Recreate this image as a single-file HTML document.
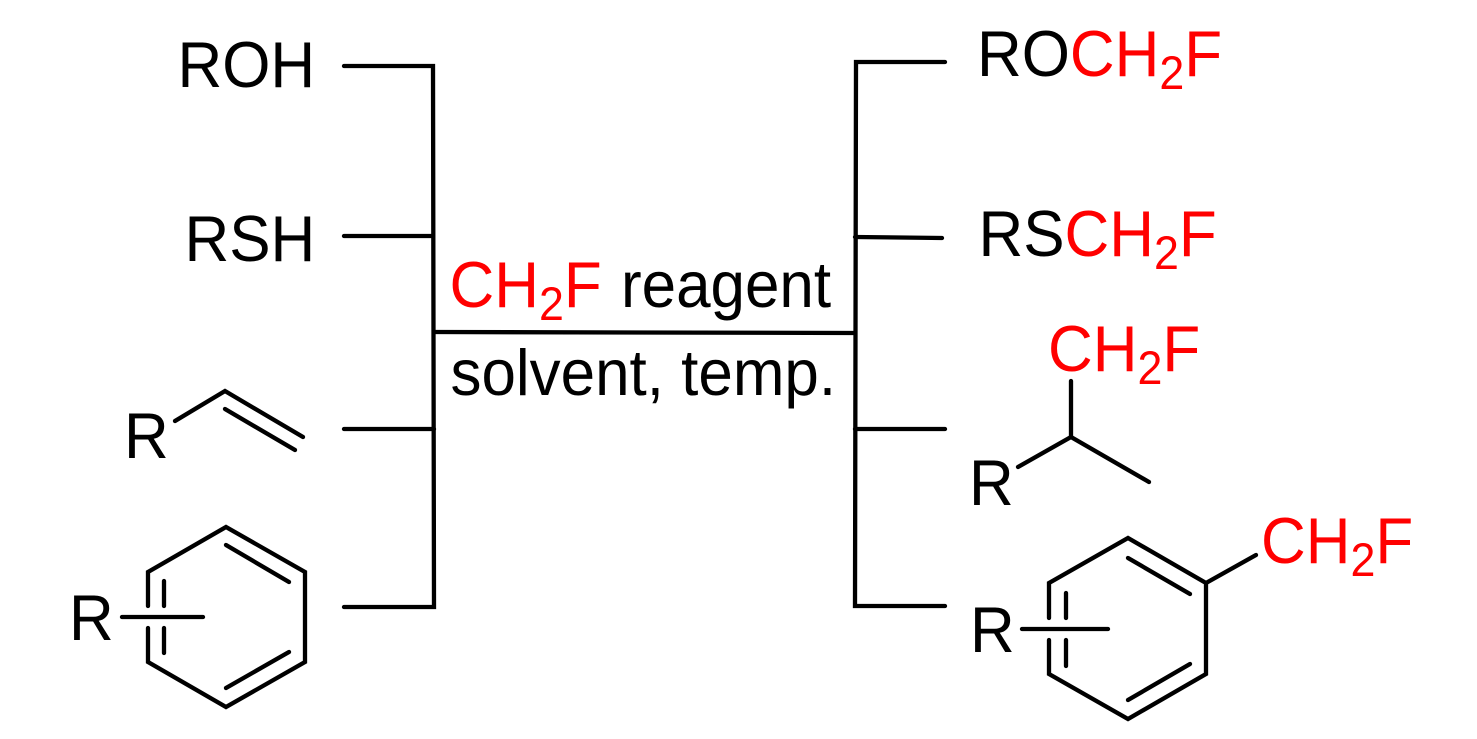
<!DOCTYPE html>
<html>
<head>
<meta charset="utf-8">
<style>
html,body{margin:0;padding:0;background:#fff;width:1477px;height:739px;overflow:hidden}
svg{display:block}
text{font-family:"Liberation Sans",Arial,sans-serif;font-size:65px;fill:#000}
.r{fill:#f00}
.s{font-size:47px}
line,polyline,polygon{stroke:#000;stroke-width:4.3;fill:none;stroke-linecap:round;stroke-linejoin:miter}
</style>
</head>
<body>
<svg width="1477" height="739" viewBox="0 0 1477 739" xmlns="http://www.w3.org/2000/svg">
<rect width="1477" height="739" fill="#fff"/>
<!-- left bracket -->
<polyline points="344,66 433,66 434,607 344,607"/>
<line x1="344" y1="236" x2="433" y2="236"/>
<line x1="344" y1="429" x2="434" y2="429"/>
<!-- centre -->
<line x1="434" y1="332" x2="854" y2="333"/>
<!-- right bracket -->
<polyline points="945,62 856,62 855,606 945,606"/>
<line x1="855" y1="237" x2="942" y2="238"/>
<line x1="855" y1="429" x2="945" y2="429"/>
<!-- vinyl -->
<polyline points="175,421 225,391 303,437"/>
<line x1="225" y1="409" x2="295" y2="450"/>
<!-- left arene -->
<polyline points="148,606 148,572 226,527 305,572 305,662 226,707 148,662 148,628"/>
<line x1="164" y1="581" x2="164" y2="606"/>
<line x1="164" y1="628" x2="164" y2="653"/>
<line x1="226" y1="545" x2="289" y2="582"/>
<line x1="226" y1="688" x2="289" y2="652"/>
<line x1="122" y1="617" x2="203" y2="617"/>
<!-- right alkyl -->
<polyline points="1018,467 1071,437 1149,482"/>
<line x1="1071" y1="437" x2="1071" y2="381"/>
<!-- right arene -->
<polyline points="1049,618 1049,583 1128,538 1206,583 1206,674 1128,719 1049,674 1049,640"/>
<line x1="1066" y1="593" x2="1066" y2="618"/>
<line x1="1066" y1="640" x2="1066" y2="666"/>
<line x1="1128" y1="558" x2="1190" y2="594"/>
<line x1="1128" y1="700" x2="1190" y2="664"/>
<line x1="1022" y1="629" x2="1108" y2="629"/>
<line x1="1206" y1="583" x2="1256" y2="555"/>
<!-- left labels -->
<text transform="translate(177.5,87) scale(.953,1)">ROH</text>
<text transform="translate(184.5,261) scale(.953,1)">RSH</text>
<text transform="translate(124,458) scale(.953,1)">R</text>
<text transform="translate(69,640) scale(.953,1)">R</text>
<!-- conditions -->
<text transform="translate(449.5,307) scale(.953,1)"><tspan class="r">CH</tspan><tspan class="r s" dy="13">2</tspan><tspan class="r" dy="-13">F</tspan></text>
<text transform="translate(621,307) scale(.953,1)">reagent</text>
<text transform="translate(450.5,395) scale(.953,1)">solvent, temp.</text>
<!-- right labels -->
<text transform="translate(977,76) scale(.953,1)">RO<tspan class="r">CH</tspan><tspan class="r s" dy="13">2</tspan><tspan class="r" dy="-13">F</tspan></text>
<text transform="translate(978.5,256) scale(.953,1)">RS<tspan class="r">CH</tspan><tspan class="r s" dy="13">2</tspan><tspan class="r" dy="-13">F</tspan></text>
<text transform="translate(1048,371) scale(.953,1)"><tspan class="r">CH</tspan><tspan class="r s" dy="13">2</tspan><tspan class="r" dy="-13">F</tspan></text>
<text transform="translate(969,505) scale(.953,1)">R</text>
<text transform="translate(970,652) scale(.953,1)">R</text>
<text transform="translate(1261,563) scale(.953,1)"><tspan class="r">CH</tspan><tspan class="r s" dy="13">2</tspan><tspan class="r" dy="-13">F</tspan></text>
</svg>
</body>
</html>
